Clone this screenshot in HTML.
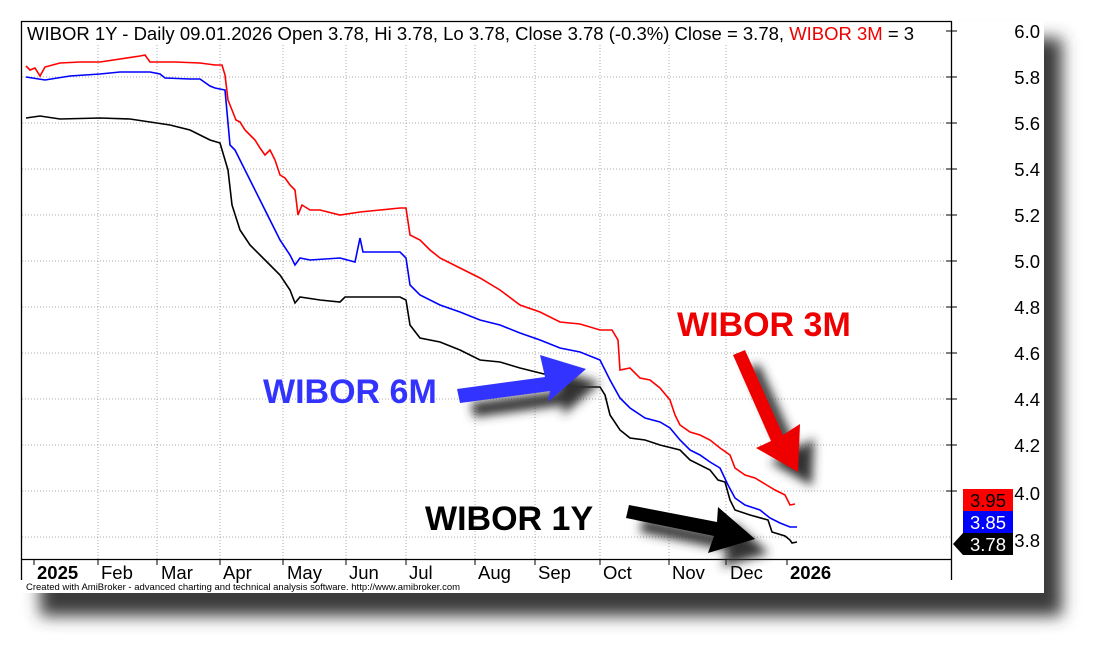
<!DOCTYPE html>
<html><head><meta charset="utf-8"><style>
body{margin:0;background:#fff;width:1097px;height:646px;overflow:hidden;font-family:"Liberation Sans",Arial,sans-serif}
</style></head><body>
<svg width="1097" height="646" xmlns="http://www.w3.org/2000/svg" font-family="Liberation Sans, Arial, sans-serif">
<defs>
<filter id="sh" x="-10%" y="-10%" width="130%" height="140%"><feGaussianBlur stdDeviation="8"/></filter>
<filter id="ash" x="-50%" y="-50%" width="200%" height="200%"><feGaussianBlur stdDeviation="5"/></filter>
</defs>
<rect x="40" y="38" width="1022" height="578" fill="#3a3a3a" filter="url(#sh)"/>
<rect x="21" y="21" width="1023" height="572" fill="#fff"/>
<g stroke="#aaa" stroke-width="1" stroke-dasharray="1,2">
<line x1="22" x2="950" y1="77" y2="77"/><line x1="22" x2="950" y1="123" y2="123"/><line x1="22" x2="950" y1="169" y2="169"/><line x1="22" x2="950" y1="215" y2="215"/><line x1="22" x2="950" y1="261" y2="261"/><line x1="22" x2="950" y1="307" y2="307"/><line x1="22" x2="950" y1="353" y2="353"/><line x1="22" x2="950" y1="399" y2="399"/><line x1="22" x2="950" y1="445" y2="445"/><line x1="22" x2="950" y1="491" y2="491"/><line x1="22" x2="950" y1="537" y2="537"/>
<line x1="98" x2="98" y1="45" y2="559"/><line x1="157" x2="157" y1="45" y2="559"/><line x1="220" x2="220" y1="45" y2="559"/><line x1="283" x2="283" y1="45" y2="559"/><line x1="346" x2="346" y1="45" y2="559"/><line x1="406" x2="406" y1="45" y2="559"/><line x1="475" x2="475" y1="45" y2="559"/><line x1="535" x2="535" y1="45" y2="559"/><line x1="600" x2="600" y1="45" y2="559"/><line x1="669" x2="669" y1="45" y2="559"/><line x1="726" x2="726" y1="45" y2="559"/>
</g>
<g stroke="#000" stroke-width="1.3" fill="none">
<line x1="21.5" y1="21" x2="21.5" y2="580"/><line x1="21" y1="21.5" x2="952" y2="21.5"/><line x1="951.5" y1="21" x2="951.5" y2="580"/><line x1="21" y1="559.5" x2="952" y2="559.5"/>
</g>
<g stroke="#000"><line x1="34" x2="34" y1="559" y2="565"/><line x1="98" x2="98" y1="559" y2="565"/><line x1="157" x2="157" y1="559" y2="565"/><line x1="220" x2="220" y1="559" y2="565"/><line x1="283" x2="283" y1="559" y2="565"/><line x1="346" x2="346" y1="559" y2="565"/><line x1="406" x2="406" y1="559" y2="565"/><line x1="475" x2="475" y1="559" y2="565"/><line x1="535" x2="535" y1="559" y2="565"/><line x1="600" x2="600" y1="559" y2="565"/><line x1="669" x2="669" y1="559" y2="565"/><line x1="726" x2="726" y1="559" y2="565"/><line x1="787" x2="787" y1="559" y2="565"/>
<line x1="946" x2="957" y1="31" y2="31"/><line x1="946" x2="957" y1="77" y2="77"/><line x1="946" x2="957" y1="123" y2="123"/><line x1="946" x2="957" y1="169" y2="169"/><line x1="946" x2="957" y1="215" y2="215"/><line x1="946" x2="957" y1="261" y2="261"/><line x1="946" x2="957" y1="307" y2="307"/><line x1="946" x2="957" y1="353" y2="353"/><line x1="946" x2="957" y1="399" y2="399"/><line x1="946" x2="957" y1="445" y2="445"/><line x1="946" x2="957" y1="491" y2="491"/></g>
<text x="27" y="40" font-size="18.5">WIBOR 1Y - Daily 09.01.2026 Open 3.78, Hi 3.78, Lo 3.78, Close 3.78 (-0.3%) Close = 3.78, <tspan fill="#e00">WIBOR 3M</tspan> = 3</text>
<g font-size="18.5" fill="#000" text-anchor="end">
<text x="1040" y="38">6.0</text><text x="1040" y="84">5.8</text><text x="1040" y="130">5.6</text><text x="1040" y="176">5.4</text><text x="1040" y="222">5.2</text><text x="1040" y="268">5.0</text><text x="1040" y="314">4.8</text><text x="1040" y="360">4.6</text><text x="1040" y="406">4.4</text><text x="1040" y="452">4.2</text><text x="1040" y="500">4.0</text><text x="1040" y="547">3.8</text>
</g>
<g font-size="18.5">
<text x="37" y="579" font-weight="bold">2025</text><text x="101" y="579">Feb</text><text x="161" y="579">Mar</text><text x="223" y="579">Apr</text><text x="287" y="579">May</text><text x="349" y="579">Jun</text><text x="409" y="579">Jul</text><text x="478" y="579">Aug</text><text x="538" y="579">Sep</text><text x="603" y="579">Oct</text><text x="672" y="579">Nov</text><text x="730" y="579">Dec</text><text x="790" y="579" font-weight="bold">2026</text>
</g>
<text x="26" y="590" font-size="9.5">Created with AmiBroker - advanced charting and technical analysis software. http://www.amibroker.com</text>
<rect x="963" y="489" width="50" height="22" fill="#f00"/><text x="988" y="507" font-size="18.5" text-anchor="middle">3.95</text>
<rect x="963" y="511" width="50" height="22" fill="#00f"/><text x="988" y="529" font-size="18.5" text-anchor="middle" fill="#fff">3.85</text>
<polygon points="953,544 963,533 1013,533 1013,555 963,555" fill="#000"/><text x="988" y="551" font-size="18.5" text-anchor="middle" fill="#fff">3.78</text>
<g fill="none" stroke-width="1.6">
<polyline stroke="#f00" points="26,66 30,70 35,68 40,76 45,67 60,63 80,62 100,62 140,56 145,55 150,62 175,62 200,63 215,65 222,65 225,75 228,100 232,110 236,120 240,122 245,130 250,135 255,140 260,148 265,155 270,150 275,160 280,175 285,178 290,185 295,190 298,215 302,205 310,210 320,210 340,215 360,212 380,210 400,208 406,208 410,235 420,240 430,250 440,258 460,268 480,278 500,290 520,305 540,312 560,322 580,324 600,330 612,330 618,340 620,370 630,368 640,378 650,380 660,388 670,400 675,415 680,425 690,432 700,435 710,440 720,448 730,455 735,468 745,475 755,478 765,484 775,490 785,495 790,505 795,504"/>
<polyline stroke="#00f" points="26,77 45,80 70,76 100,74 120,72 150,72 160,74 165,78 190,79 200,79 210,86 215,88 225,90 230,145 235,150 240,160 250,180 260,200 270,220 280,240 290,255 295,265 300,258 310,260 340,258 355,262 360,238 363,252 380,252 400,252 406,258 410,285 420,295 440,305 460,312 480,320 500,325 520,333 540,340 560,348 580,352 600,360 610,380 620,398 630,408 645,418 660,422 670,428 680,440 690,450 700,455 710,462 720,468 728,485 735,498 745,505 760,510 770,518 780,523 790,527 797,527"/>
<polyline stroke="#000" points="26,118 40,116 60,119 100,118 130,119 150,122 170,125 190,130 200,135 210,140 220,143 228,170 232,205 240,230 250,245 260,255 270,265 280,275 290,290 295,303 300,297 320,300 340,302 345,297 360,297 380,297 400,297 406,300 410,325 420,338 440,342 460,350 480,360 500,362 520,368 540,373 560,378 570,387 600,387 605,395 610,415 620,430 630,438 645,440 660,445 680,450 690,460 710,470 718,480 725,482 730,500 735,510 750,515 768,520 772,532 785,536 790,540 792,543 797,542"/>
</g>
<g filter="url(#ash)" fill="#333" transform="translate(14,14)">
<polygon points="733,355 745,350 783,435 800,424 798,472 756,448 771,441"/>
<polygon points="457,389 460,403 550,391 548,402 586,369 540,355 545,377"/>
<polygon points="629,505 626,518 714,536 708,553 755,539 718,507 717,522"/>
</g>
<polygon points="733,355 745,350 783,435 800,424 798,472 756,448 771,441" fill="#e00"/>
<polygon points="457,389 460,403 550,391 548,402 586,369 540,355 545,377" fill="#33f"/>
<polygon points="629,505 626,518 714,536 708,553 755,539 718,507 717,522" fill="#000"/>
<text x="677" y="336" font-size="34" font-weight="bold" fill="#e00">WIBOR 3M</text>
<text x="263" y="403" font-size="34" font-weight="bold" fill="#33f">WIBOR 6M</text>
<text x="425" y="530" font-size="34" font-weight="bold" fill="#000">WIBOR 1Y</text>
</svg>
</body></html>
